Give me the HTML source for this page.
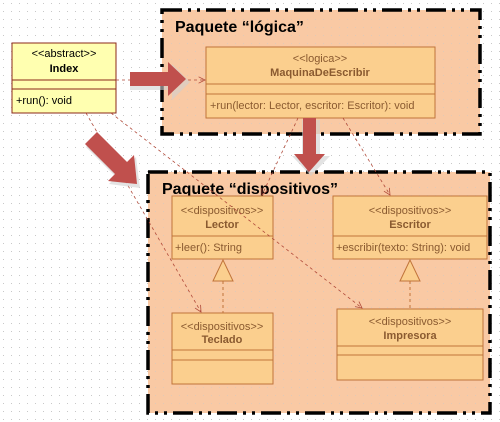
<!DOCTYPE html>
<html><head><meta charset="utf-8"><style>
body{margin:0;background:#fff}
svg{display:block;font-family:"Liberation Sans",sans-serif}
</style></head><body>
<svg width="500" height="422" viewBox="0 0 500 422">
<defs>
<pattern id="dots" width="8" height="8" patternUnits="userSpaceOnUse"><rect x="3" y="3" width="1" height="1" fill="#c8c8c8"/></pattern>
<marker id="open" markerWidth="10" markerHeight="10" refX="9" refY="5" orient="auto"><path d="M1,1 L9,5 L1,9" fill="none" stroke="#b04a3a" stroke-width="1"/></marker>
</defs>
<rect width="500" height="422" fill="url(#dots)"/>

<g>
<rect x="162" y="10" width="318" height="124" fill="#f9c9a4"/>
<rect x="162" y="10" width="318" height="124" fill="url(#dots)" opacity="0.5"/>
<rect x="162" y="10" width="318" height="124" fill="none" stroke="#000" stroke-width="3.5" stroke-dasharray="20,6,3,6,3,6"/>
<text x="175" y="32" font-size="16" font-weight="bold">Paquete “lógica”</text>
</g>

<g>
<rect x="148" y="172" width="342" height="241" fill="#f9c9a4"/>
<rect x="148" y="172" width="342" height="241" fill="url(#dots)" opacity="0.5"/>
<rect x="148" y="172" width="342" height="241" fill="none" stroke="#000" stroke-width="3.5" stroke-dasharray="20,6,3,6,3,6"/>
<text x="162" y="194" font-size="16" font-weight="bold">Paquete “dispositivos”</text>
</g>

<g>
<rect x="12" y="43" width="104" height="70" fill="#ffffb0" stroke="#8b2a1a"/>
<line x1="12" y1="80" x2="116" y2="80" stroke="#8b2a1a"/>
<line x1="12" y1="89" x2="116" y2="89" stroke="#8b2a1a"/>
<text x="64" y="57" font-size="11" text-anchor="middle">&lt;&lt;abstract&gt;&gt;</text>
<text x="64" y="72" font-size="11" font-weight="bold" text-anchor="middle">Index</text>
<text x="16" y="104" font-size="11">+run(): void</text>
</g>

<g fill="#8a5a30">
<rect x="206" y="47" width="229" height="71" fill="#fbcf8e" stroke="#c0743a"/>
<line x1="206" y1="84" x2="435" y2="84" stroke="#c0743a"/>
<line x1="206" y1="94" x2="435" y2="94" stroke="#c0743a"/>
<text x="320" y="62" font-size="11" text-anchor="middle">&lt;&lt;logica&gt;&gt;</text>
<text x="320" y="76" font-size="11" font-weight="bold" text-anchor="middle">MaquinaDeEscribir</text>
<text x="210" y="109" font-size="11">+run(lector: Lector, escritor: Escritor): void</text>
</g>

<g fill="#8a5a30">
<rect x="172" y="196" width="101" height="63" fill="#fbcf8e" stroke="#c0743a"/>
<line x1="172" y1="236" x2="273" y2="236" stroke="#c0743a"/>
<text x="222" y="214" font-size="11" text-anchor="middle">&lt;&lt;dispositivos&gt;&gt;</text>
<text x="222" y="228" font-size="11" font-weight="bold" text-anchor="middle">Lector</text>
<text x="175" y="251" font-size="11">+leer(): String</text>
</g>

<g fill="#8a5a30">
<rect x="333" y="196" width="154" height="63" fill="#fbcf8e" stroke="#c0743a"/>
<line x1="333" y1="236" x2="487" y2="236" stroke="#c0743a"/>
<text x="410" y="214" font-size="11" text-anchor="middle">&lt;&lt;dispositivos&gt;&gt;</text>
<text x="410" y="228" font-size="11" font-weight="bold" text-anchor="middle">Escritor</text>
<text x="336" y="251" font-size="11">+escribir(texto: String): void</text>
</g>

<g fill="#8a5a30">
<rect x="172" y="313" width="101" height="71" fill="#fbcf8e" stroke="#c0743a"/>
<line x1="172" y1="350" x2="273" y2="350" stroke="#c0743a"/>
<line x1="172" y1="360" x2="273" y2="360" stroke="#c0743a"/>
<text x="222" y="330" font-size="11" text-anchor="middle">&lt;&lt;dispositivos&gt;&gt;</text>
<text x="222" y="343" font-size="11" font-weight="bold" text-anchor="middle">Teclado</text>
</g>

<g fill="#8a5a30">
<rect x="337" y="309" width="146" height="71" fill="#fbcf8e" stroke="#c0743a"/>
<line x1="337" y1="346" x2="483" y2="346" stroke="#c0743a"/>
<line x1="337" y1="355" x2="483" y2="355" stroke="#c0743a"/>
<text x="410" y="325" font-size="11" text-anchor="middle">&lt;&lt;dispositivos&gt;&gt;</text>
<text x="410" y="339" font-size="11" font-weight="bold" text-anchor="middle">Impresora</text>
</g>

<g stroke="#c0743a" fill="#fbcf8e">
<path d="M223,260 L213,281 L233,281 Z"/>
<line x1="223" y1="281" x2="223" y2="313" stroke-dasharray="3,3"/>
<path d="M410,260 L400,281 L420,281 Z"/>
<line x1="410" y1="281" x2="410" y2="309" stroke-dasharray="3,3"/>
</g>

<g stroke="#b04a3a" stroke-width="0.8" stroke-dasharray="3,3" fill="none">
<line x1="116" y1="80" x2="205" y2="80" marker-end="url(#open)"/>
<line x1="86" y1="113" x2="201" y2="312" marker-end="url(#open)"/>
<line x1="111" y1="113" x2="362" y2="308" marker-end="url(#open)"/>
<line x1="298" y1="118" x2="262" y2="195" marker-end="url(#open)"/>
<line x1="343" y1="118" x2="390" y2="195" marker-end="url(#open)"/>
</g>

<g>
<g opacity="0.6" fill="#d0d0d0">
<path d="M130,74 L172,74 L172,64 L190,82 L172,100 L172,90 L130,90 Z"/>
<path d="M99,134 L129,164 L136,157 L140,188 L109,184 L116,177 L86,147 Z"/>
<path d="M302,120 L320,120 L320,156 L330,156 L311,176 L292,156 L302,156 Z"/>
</g>
<path d="M130,72 L168,72 L168,62 L186,79 L168,96 L168,86 L130,86 Z" fill="#c0504d"/>
<path d="M97,132 L127,162 L134,155 L137,184 L108,181 L115,174 L85,144 Z" fill="#c0504d"/>
<path d="M303,118 L316,118 L316,154 L325,154 L309,172 L294,154 L303,154 Z" fill="#c0504d"/>
</g>
</svg>
</body></html>
